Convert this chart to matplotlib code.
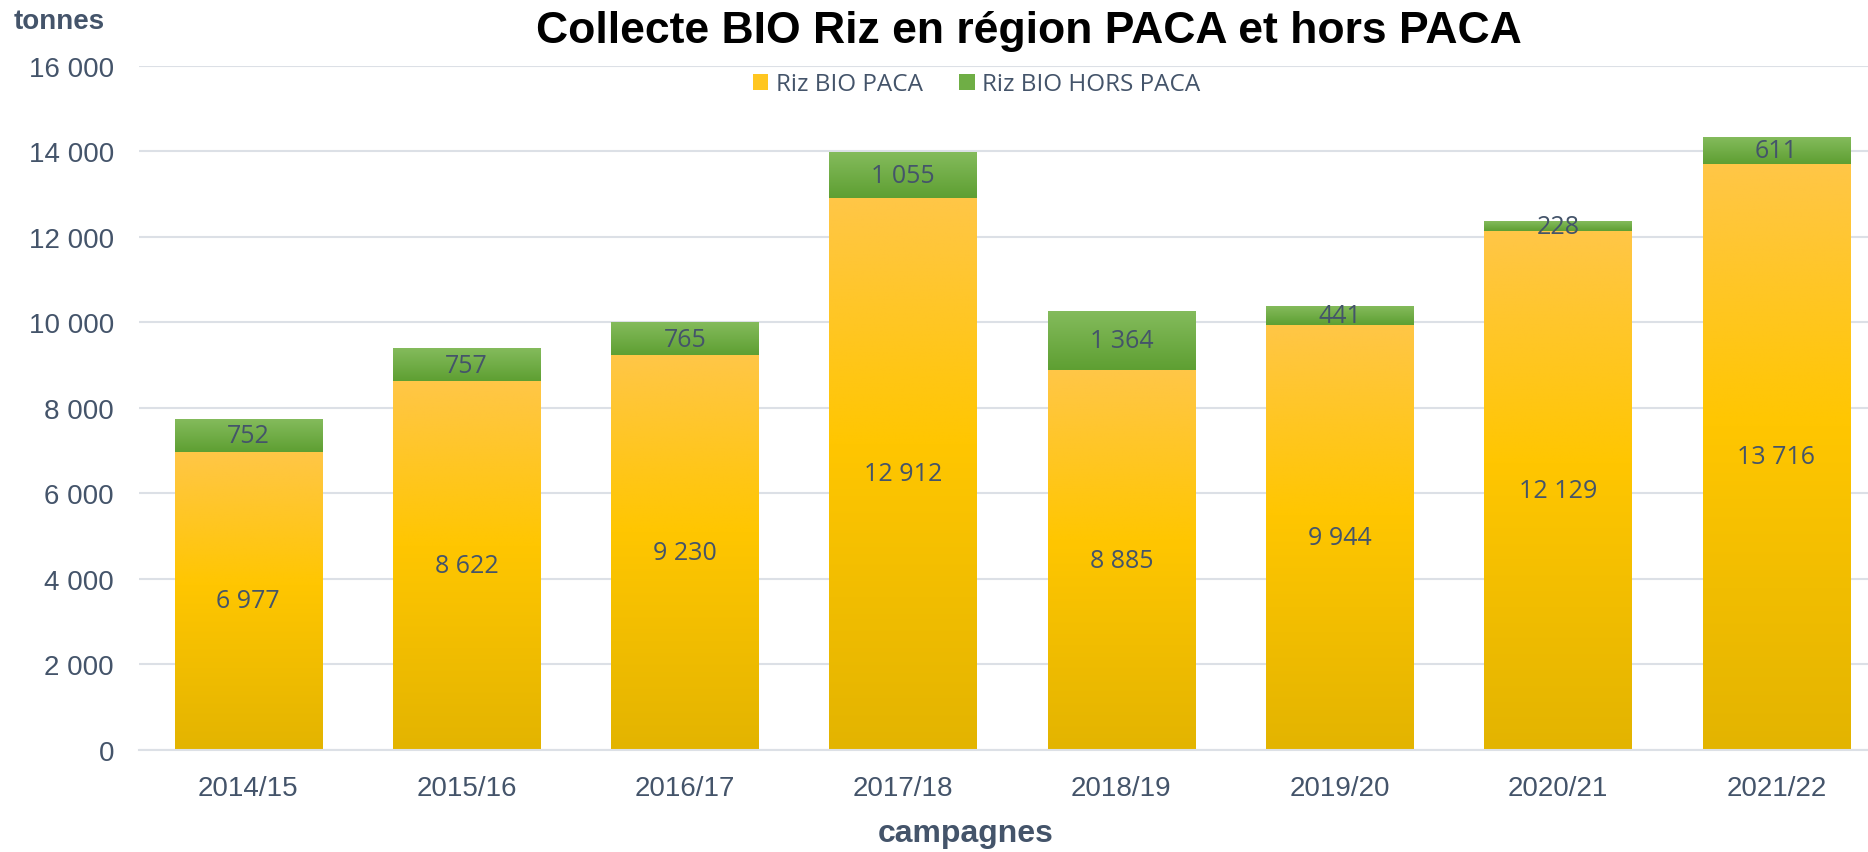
import matplotlib
matplotlib.use("Agg")
import matplotlib.pyplot as plt
from matplotlib.colors import LinearSegmentedColormap
from matplotlib.patches import Patch
import numpy as np

campagnes = ["2014/15", "2015/16", "2016/17", "2017/18", "2018/19", "2019/20", "2020/21", "2021/22"]
paca = [6977, 8622, 9230, 12912, 8885, 9944, 12129, 13716]
hors_paca = [752, 757, 765, 1055, 1364, 441, 228, 611]
y_ticks = [0, 2000, 4000, 6000, 8000, 10000, 12000, 14000, 16000]

TXT = "#44546A"
GRID = "#DCE0E6"


def fmt(v):
    return "{:,}".format(v).replace(",", " ")


# gradient colormaps (bottom -> top)
cmap_yellow = LinearSegmentedColormap.from_list(
    "y", [(0, "#E3B400"), (0.55, "#FFC600"), (1, "#FFC647")])
cmap_green = LinearSegmentedColormap.from_list(
    "g", [(0, "#5E9F32"), (1, "#84BB5C")])
grad = np.linspace(0, 1, 256).reshape(-1, 1)

fig = plt.figure(figsize=(18.68, 8.53), dpi=100)
ax = fig.add_axes([0.0744, 0.1196, 0.9256, 0.8019])

x = np.arange(len(campagnes))
w = 0.674
b1 = ax.bar(x, paca, w, color="none", zorder=2)
b2 = ax.bar(x, hors_paca, w, bottom=paca, color="none", zorder=2)

for bars, cm in ((b1, cmap_yellow), (b2, cmap_green)):
    for r in bars:
        x0, y0 = r.get_x(), r.get_y()
        ax.imshow(grad, cmap=cm, origin="lower", aspect="auto", zorder=2,
                  extent=(x0, x0 + r.get_width(), y0, y0 + r.get_height()),
                  interpolation="bilinear")

for i in range(len(campagnes)):
    ax.text(x[i], paca[i] / 2, fmt(paca[i]), ha="center", va="center",
            fontsize=18, color=TXT, family="Open Sans", zorder=3)
    ax.text(x[i], paca[i] + hors_paca[i] / 2, fmt(hors_paca[i]), ha="center",
            va="center", fontsize=18, color=TXT, family="Open Sans", zorder=3)

ax.set_xlim(-0.5, 7.42)
ax.set_ylim(0, 16000)
ax.set_yticks(y_ticks)
ax.set_yticklabels([fmt(v) for v in y_ticks])
ax.set_xticks(x)
ax.set_xticklabels(campagnes)
ax.tick_params(axis="both", length=0, labelsize=20, labelcolor=TXT)
ax.tick_params(axis="y", pad=18)
ax.tick_params(axis="x", pad=18)
for lab in ax.get_xticklabels() + ax.get_yticklabels():
    lab.set_family("Liberation Sans")
ax.grid(axis="y", color=GRID, linewidth=1.5, zorder=0)
ax.set_axisbelow(True)
for s in ("left", "right", "top"):
    ax.spines[s].set_visible(False)
ax.spines["bottom"].set_color(GRID)
ax.spines["bottom"].set_linewidth(1.5)

fig.text(0.551, 0.963, "Collecte BIO Riz en région PACA et hors PACA", ha="center",
         va="center", fontsize=32, fontweight="bold", family="Liberation Sans")
fig.text(0.0315, 0.974, "tonnes", ha="center", va="center", fontsize=20,
         fontweight="bold", color=TXT, family="Liberation Sans")
fig.text(0.517, 0.022, "campagnes", ha="center", va="center", fontsize=23,
         fontweight="bold", color=TXT, family="Liberation Sans")

handles = [Patch(facecolor="#FFC620"), Patch(facecolor="#6FAE45")]
fig.legend(handles, ["Riz BIO PACA", "Riz BIO HORS PACA"], loc="center",
           bbox_to_anchor=(0.5228, 0.900), ncol=2, frameon=False,
           prop={"family": "Open Sans", "size": 17.5}, labelcolor=TXT,
           handlelength=0.65, handleheight=0.65, handletextpad=0.3, columnspacing=1.5)

fig.savefig("out.png", dpi=100)
